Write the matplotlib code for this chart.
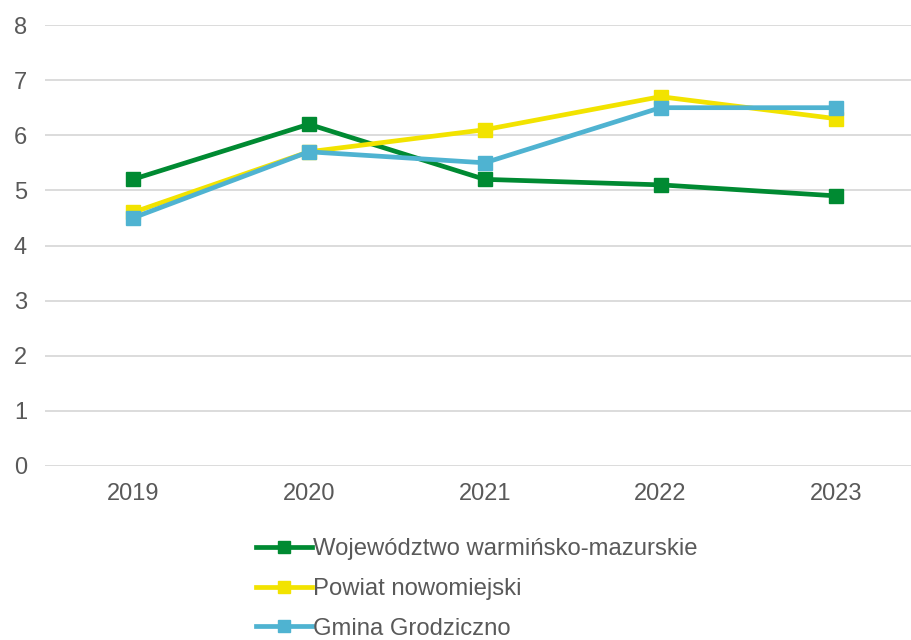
import matplotlib.pyplot as plt
import numpy as np

plt.rcParams['font.family'] = ['Liberation Sans', 'DejaVu Sans']

years = ["2019", "2020", "2021", "2022", "2023"]
wojewodztwo = [5.2, 6.2, 5.2, 5.1, 4.9]
powiat = [4.6, 5.7, 6.1, 6.7, 6.3]
gmina = [4.5, 5.7, 5.5, 6.5, 6.5]

series = [
    ("Województwo warmińsko-mazurskie", wojewodztwo, "#008A32"),
    ("Powiat nowomiejski", powiat, "#F2E300"),
    ("Gmina Grodziczno", gmina, "#4FB3D1"),
]

fig = plt.figure(figsize=(9.12, 6.4), dpi=100)
ax = fig.add_axes([45 / 912, 174 / 640, 867 / 912, 441 / 640])

x = np.arange(len(years))
for label, vals, color in series:
    ax.plot(x, vals, color=color, linewidth=3.4, marker="s", markersize=10,
            label=label, zorder=3)

ax.set_ylim(0, 8)
ax.set_yticks(range(0, 9))
ax.set_xlim(-0.5, 4.43)
ax.set_xticks(x)
ax.set_xticklabels(years)
ax.grid(axis="y", color="#D9D9D9", linewidth=1.3, zorder=0)
for s in ax.spines.values():
    s.set_visible(False)
ax.tick_params(axis="both", length=0, labelsize=17, colors="#595959")
ax.tick_params(axis="y", pad=13)
ax.tick_params(axis="x", pad=12)

leg = fig.legend(loc="upper left", bbox_to_anchor=(244 / 912, 1 - 526 / 640),
                 frameon=False, fontsize=17.2, handlelength=2.35,
                 handletextpad=0.05, labelspacing=0.75, borderpad=0,
                 markerscale=0.85)
for t in leg.get_texts():
    t.set_color("#595959")

fig.savefig("out.png", dpi=100)
